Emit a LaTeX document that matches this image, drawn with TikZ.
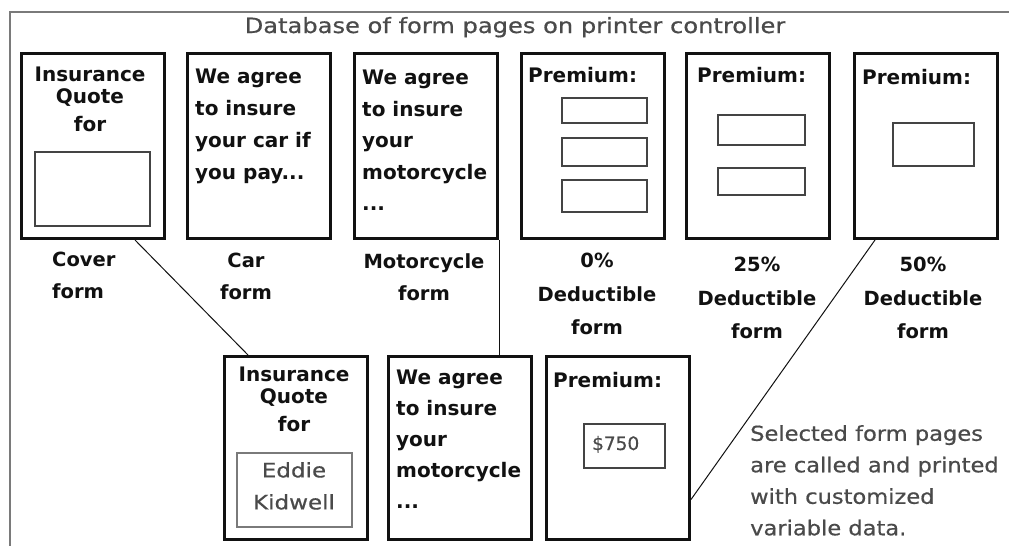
\documentclass[tikz,border=0pt]{standalone}
\usepackage{fontspec}
\setmainfont{DejaVu Sans}
\newfontfamily\widesans[FakeStretch=1.15,FakeBold=0.6]{DejaVu Sans}
\newfontfamily\midsans[FakeStretch=1.1,FakeBold=0.6]{DejaVu Sans}
\newfontfamily\plainsans[FakeBold=0.6]{DejaVu Sans}
\usetikzlibrary{calc}
\definecolor{ink}{HTML}{111111}
\definecolor{greytext}{HTML}{4A4A4A}
\definecolor{framegrey}{HTML}{7A7A7A}
\definecolor{fieldgrey}{HTML}{444444}
\tikzset{
  page/.style={draw=ink, line width=3pt, fill=white, minimum width=143pt,
    minimum height=185pt, anchor=north west, inner sep=0pt},
  lowpage/.style={page, minimum height=183pt},
  field/.style={draw=fieldgrey, line width=1.6pt},
  pagetext/.style={font=\bfseries\fontsize{20}{32}\selectfont, text=ink,
    inner sep=0pt, align=left, anchor=north west},
  quotetext/.style={font=\bfseries\fontsize{20}{21.5}\selectfont, text=ink,
    inner sep=0pt, align=center, anchor=north},
  caption/.style={font=\bfseries\fontsize{19.5}{32}\selectfont, text=ink,
    inner sep=0pt, align=center, anchor=north},
  note/.style={text=greytext, inner sep=0pt, align=left},
  link/.style={draw=ink, line width=1pt},
}
\begin{document}
\begin{tikzpicture}[x=1pt,y=-1pt]
\useasboundingbox (0,0) rectangle (1009,546);

% frame of the form database
\draw[framegrey, line width=1.5pt] (1009,12) -- (10,12) -- (10,546);
\node[note, anchor=base, font=\widesans\fontsize{21}{24}\selectfont] (title) at (515,33)
  {Database of form pages on printer controller};

% stored form pages
\node[page] (cover) at (20,52) {};
\node[page] (car) at (186,52) {};
\node[page] (motor) at (353,52) {};
\node[page] (ded0) at (520,52) {};
\node[page] (ded25) at (685,52) {};
\node[page] (ded50) at (853,52) {};

\node[quotetext] (coverText) at (90,67) {Insurance\\Quote\\[6.5pt]for};
\draw[field] (35,152) rectangle (150,226);
\node[pagetext] (carText) at (195,69) {We agree\\to insure\\your car if\\you pay...};
\node[pagetext, font=\bfseries\fontsize{20}{31.5}\selectfont] (motorText) at (362,70)
  {We agree\\to insure\\your\\motorcycle\\...};
\node[pagetext] (ded0Text) at (528,67) {Premium:};
\draw[field] (562,98) rectangle (647,123);
\draw[field] (562,138) rectangle (647,166);
\draw[field] (562,180) rectangle (647,212);
\node[pagetext] (ded25Text) at (697,67) {Premium:};
\draw[field] (718,115) rectangle (805,145);
\draw[field] (718,168) rectangle (805,195);
\node[pagetext] (ded50Text) at (862,69) {Premium:};
\draw[field] (893,123) rectangle (974,166);

% captions
\node[caption, align=left, anchor=north west] (coverCap) at (52,252) {Cover\\form};
\node[caption] (carCap) at (246,253) {Car\\form};
\node[caption] (motorCap) at (424,253) {Motorcycle\\form};
\node[caption, font=\bfseries\fontsize{19.5}{33.5}\selectfont] (ded0Cap) at (597,253)
  {0\%\\Deductible\\form};
\node[caption, font=\bfseries\fontsize{19.5}{33.5}\selectfont] (ded25Cap) at (757,257)
  {25\%\\Deductible\\form};
\node[caption, font=\bfseries\fontsize{19.5}{33.5}\selectfont] (ded50Cap) at (923,257)
  {50\%\\Deductible\\form};

% printed pages
\node[lowpage] (qcover) at (223,355) {};
\node[lowpage] (qmotor) at (387,355) {};
\node[lowpage] (qprem) at (545,355) {};

\node[quotetext] (qcoverText) at (294,367) {Insurance\\Quote\\[6.5pt]for};
\draw[field, draw=framegrey] (237,453) rectangle (352,527);
\node[note, anchor=north, align=center, font=\widesans\fontsize{20}{32}\selectfont]
  (qname) at (294,462) {Eddie\\Kidwell};
\node[pagetext, font=\bfseries\fontsize{20}{31}\selectfont] (qmotorText) at (396,370)
  {We agree\\to insure\\your\\motorcycle\\...};
\node[pagetext] (qpremText) at (553,372) {Premium:};
\draw[field] (584,424) rectangle (665,468);
\node[note, anchor=base west, font=\plainsans\fontsize{18.5}{20}\selectfont] (amount) at (592,450) {\$750};

\node[note, anchor=north west, font=\midsans\fontsize{20.5}{31.5}\selectfont] (explain)
  at (750,425) {Selected form pages\\are called and printed\\with customized\\variable data.};

% links from stored pages to printed pages
\draw[link] ([xshift=115pt]cover.south west) -- ([xshift=25pt]qcover.north west);
\draw[link] (motor.south east) -- (motor.south east |- qmotor.north);
\draw[link] ([xshift=22pt]ded50.south west) -- ([yshift=-51.5pt]qprem.east);
\end{tikzpicture}
\end{document}
